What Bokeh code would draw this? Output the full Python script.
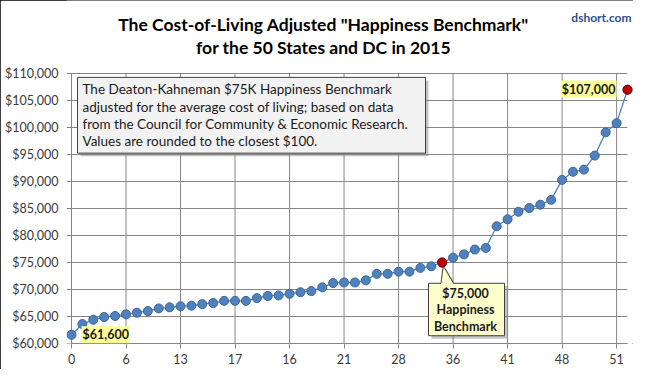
from bokeh.plotting import figure
from bokeh.models import FixedTicker, NumeralTickFormatter, Label, Range1d
from bokeh.embed import file_html
from bokeh.resources import INLINE

# ---------------- data ----------------
title_lines = ['The Cost-of-Living Adjusted "Happiness Benchmark"',
               'for the 50 States and DC in 2015']
source_text = "dshort.com"
note_lines = ["The Deaton-Kahneman  $75K Happiness Benchmark",
              "adjusted for the average cost of living; based on data",
              "from  the Council for Community & Economic Research.",
              "Values are rounded to the closest $100."]
callout_lines = ["$75,000", "Happiness", "Benchmark"]
low_label = "$61,600"
high_label = "$107,000"

values = [61600, 63600, 64400, 64900, 65100, 65400, 65700, 66000, 66500, 66700,
          66900, 67000, 67300, 67500, 67900, 67900, 67900, 68400, 68800, 68900,
          69200, 69500, 69700, 70400, 71200, 71300, 71300, 71700, 72900, 72900,
          73300, 73300, 74000, 74300, 75000, 75900, 76500, 77400, 77700, 81700,
          83000, 84400, 85100, 85700, 86600, 90300, 91800, 92200, 94800, 99100,
          100800, 107000]
positions = list(range(len(values)))
highlight_idx = [34, 51]

x_ticks = [0, 5, 10, 15, 20, 25, 30, 35, 40, 45, 50]
x_tick_labels = ["0", "6", "13", "17", "16", "21", "28", "36", "41", "48", "51"]
y_ticks = [60000, 65000, 70000, 75000, 80000, 85000, 90000, 95000, 100000, 105000, 110000]

FONT = "Lato"
GRID = "#868686"
TICK_TEXT = "#3a3a3a"

W, H = 633, 369
LEFT, BOTTOM = 66, 26
FRAME_H = H - BOTTOM            # frame spans from canvas top to the x axis
PX_PER_X = 556 / 51             # layout scale: pixels per category step
PX_PER_Y = 270 / 50000          # layout scale: pixels per dollar


# helpers: annotation placement from layout pixels (x from left, y from top)
def rx(px):
    return (px - 71) / PX_PER_X


def ry(py):
    return 110000 - (py - 73) * 50000 / 278


y_top = 60000 + FRAME_H / PX_PER_Y

p = figure(width=W, height=H,
           x_range=Range1d(rx(LEFT), rx(W)), y_range=Range1d(60000, y_top),
           output_backend="svg", toolbar_location=None,
           min_border_left=LEFT, min_border_right=0,
           min_border_top=0, min_border_bottom=BOTTOM,
           background_fill_color="white", border_fill_color="white")
p.outline_line_color = None
p.grid.visible = False
p.styles = {"outline": "1px solid #000", "outline-offset": "-1px"}

# gridlines (extend a little left of the first category like tick marks)
p.segment(x0=[rx(LEFT)] * len(y_ticks), y0=y_ticks, x1=[51] * len(y_ticks), y1=y_ticks,
          line_color=GRID, line_width=1)
p.segment(x0=x_ticks, y0=[y_ticks[0]] * len(x_ticks), x1=x_ticks, y1=[y_ticks[-1]] * len(x_ticks),
          line_color=GRID, line_width=1)

# axes
p.xaxis.ticker = FixedTicker(ticks=x_ticks)
p.xaxis.major_label_overrides = {t: l for t, l in zip(x_ticks, x_tick_labels)}
p.xaxis.bounds = (0, 51)
p.xaxis.axis_line_color = GRID
p.xaxis.major_tick_line_color = GRID
p.xaxis.major_tick_out = 5
p.xaxis.major_tick_in = 0
p.xaxis.minor_tick_line_color = None
p.xaxis.major_label_standoff = 5

p.yaxis.ticker = FixedTicker(ticks=y_ticks)
p.yaxis.formatter = NumeralTickFormatter(format="$0,0")
p.yaxis.axis_line_color = None
p.yaxis.major_tick_line_color = None
p.yaxis.minor_tick_line_color = None
p.yaxis.major_tick_out = 0
p.yaxis.major_tick_in = 0
p.yaxis.major_label_standoff = 8

for ax in (p.xaxis, p.yaxis):
    ax.major_label_text_font = FONT
    ax.major_label_text_font_size = "12.5px"
    ax.major_label_text_color = TICK_TEXT

# shadow offset (3px right, 3px down)
dx, dy = 3 / PX_PER_X, -3 / PX_PER_Y

# ---------- note box ----------
nb_l, nb_r, nb_t, nb_b = rx(77), rx(425), ry(77), ry(155)
p.patch([nb_l + dx, nb_r + dx, nb_r + dx, nb_l + dx], [nb_t + dy, nb_t + dy, nb_b + dy, nb_b + dy],
        fill_color="#7f7f7f", fill_alpha=0.45, line_color=None)
p.patch([nb_l, nb_r, nb_r, nb_l], [nb_t, nb_t, nb_b, nb_b],
        fill_color="#f2f2f2", line_color="#404040", line_width=1)
for k, line in enumerate(note_lines):
    p.add_layout(Label(x=rx(82), y=ry(89 + 18 * k), text=line, text_font=FONT,
                       text_font_size="13.5px", text_color="#1a1a1a",
                       text_align="left", text_baseline="middle"))

# ---------- callout for benchmark ----------
ci = highlight_idx[0]
tip_x, tip_y = positions[ci] + 0.1, values[ci] - 600
cb_l, cb_r, cb_t, cb_b = rx(428), rx(504), ry(289), ry(343)
cxs = [cb_l, rx(440.5), tip_x, rx(453), cb_r, cb_r, cb_l]
cys = [cb_t, cb_t, tip_y, cb_t, cb_t, cb_b, cb_b]
p.patch([v + dx for v in cxs], [v + dy for v in cys],
        fill_color="#7f7f7f", fill_alpha=0.45, line_color=None)
p.patch(cxs, cys, fill_color="#ffffcc", line_color="#404040", line_width=1)
for k, line in enumerate(callout_lines):
    p.add_layout(Label(x=rx(465), y=ry(300 + 16.5 * k), text=line, text_font=FONT,
                       text_font_size="12.5px", text_font_style="bold", text_color="#1a1a1a",
                       text_align="center", text_baseline="middle"))

# ---------- series ----------
p.line(positions, values, line_color="#4a7ebb", line_width=1.25)
p.scatter(positions, values, size=9, fill_color="#4f81bd", line_color="#3a679c", line_width=1)
p.scatter([positions[i] for i in highlight_idx], [values[i] for i in highlight_idx],
          size=9, fill_color="#c00000", line_color="#7a0000", line_width=1)

# ---------- value labels ----------
p.add_layout(Label(x=rx(81), y=ry(342), text=low_label, text_font=FONT,
                   text_font_size="12.5px", text_font_style="bold", text_color="#1a1a1a",
                   text_align="left", text_baseline="middle",
                   background_fill_color="#ffff99", padding=1))
p.add_layout(Label(x=rx(616), y=ry(89), text=high_label, text_font=FONT,
                   text_font_size="12.5px", text_font_style="bold", text_color="#1a1a1a",
                   text_align="right", text_baseline="middle",
                   background_fill_color="#ffff99", padding=1))

# ---------- titles ----------
for k, line in enumerate(title_lines):
    p.add_layout(Label(x=rx(323), y=ry(23 + 23 * k), text=line, text_font=FONT,
                       text_font_size="17.5px", text_font_style="bold", text_color="#000000",
                       text_align="center", text_baseline="middle"))
p.add_layout(Label(x=rx(631), y=ry(15), text=source_text, text_font=FONT,
                   text_font_size="12px", text_font_style="bold", text_color="#2c4f8c",
                   text_align="right", text_baseline="middle"))

open("out.html", "w").write(file_html(p, INLINE))
